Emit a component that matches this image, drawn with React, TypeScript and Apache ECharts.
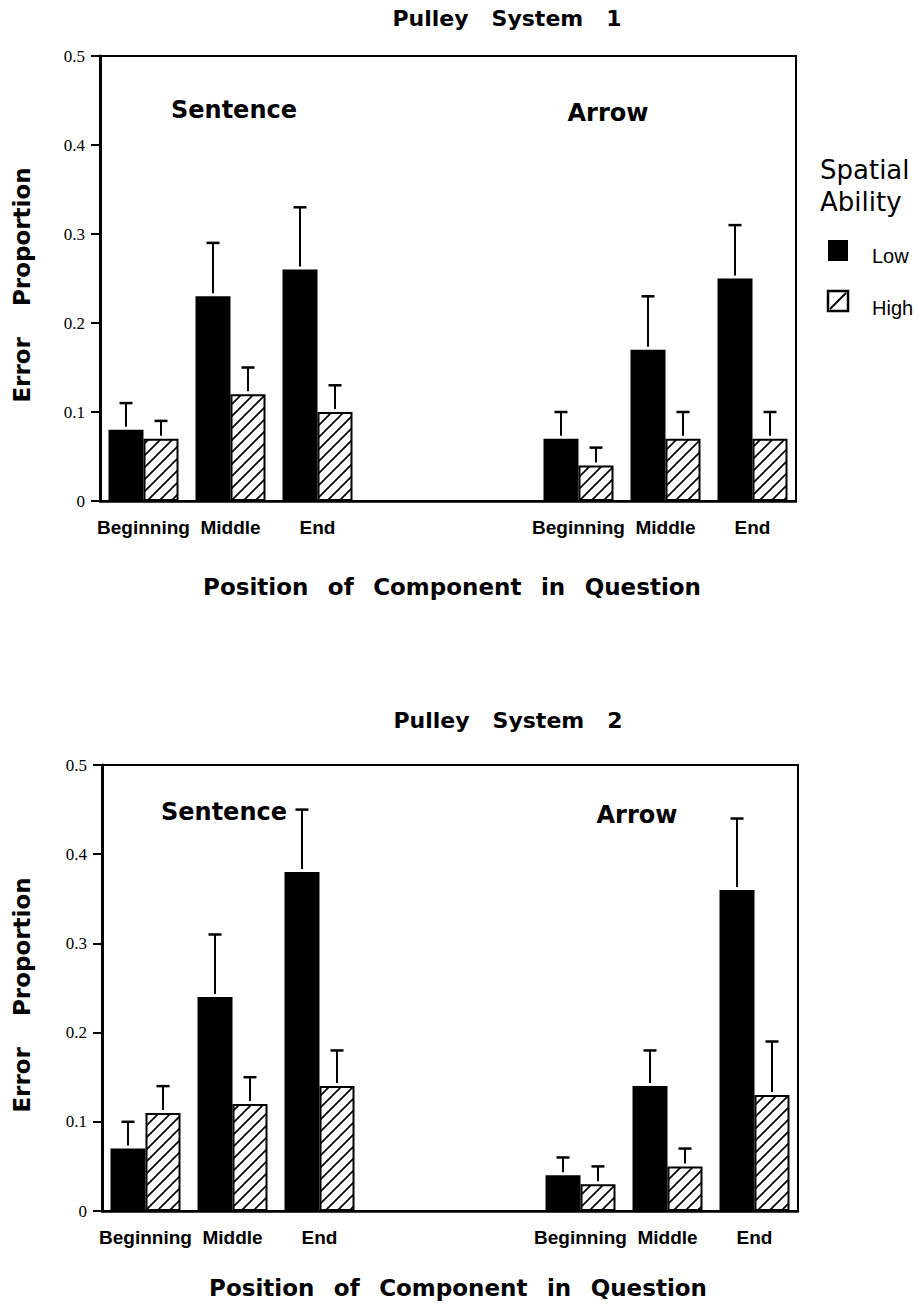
import React, { useEffect, useRef } from 'react';
import * as echarts from 'echarts';

// ---- data ----
const tickLabels = ['Beginning', 'Middle', 'End', '', '', 'Beginning', 'Middle', 'End'];
const seriesNames = ['Low', 'High'];

// Pulley System 1
const p1Low = [0.08, 0.23, 0.26, null, null, 0.07, 0.17, 0.25];
const p1LowErr = [0.11, 0.29, 0.33, null, null, 0.10, 0.23, 0.31];
const p1High = [0.07, 0.12, 0.10, null, null, 0.04, 0.07, 0.07];
const p1HighErr = [0.09, 0.15, 0.13, null, null, 0.06, 0.10, 0.10];

// Pulley System 2
const p2Low = [0.07, 0.24, 0.38, null, null, 0.04, 0.14, 0.36];
const p2LowErr = [0.10, 0.31, 0.45, null, null, 0.06, 0.18, 0.44];
const p2High = [0.11, 0.12, 0.14, null, null, 0.03, 0.05, 0.13];
const p2HighErr = [0.14, 0.15, 0.18, null, null, 0.05, 0.07, 0.19];

const panelTitles = ['Pulley\u00A0\u00A0\u00A0System\u00A0\u00A0\u00A01', 'Pulley\u00A0\u00A0\u00A0System\u00A0\u00A0\u00A02'];
const groupLabels = ['Sentence', 'Arrow'];
const yTitle = 'Error\u2002\u2002\u00A0Proportion';
const xTitle = 'Position\u2002\u00A0of\u2002\u00A0Component\u2002\u00A0in\u2002\u00A0Question';
const legendTitle = ['Spatial', 'Ability'];

const BAR_W = 35;
const BOLD = '"DejaVu Sans", sans-serif';

function makeHatch() {
  const s = 12;
  const c = document.createElement('canvas');
  c.width = s;
  c.height = s;
  const g = c.getContext('2d')!;
  g.fillStyle = '#fff';
  g.fillRect(0, 0, s, s);
  g.strokeStyle = '#000';
  g.lineWidth = 1.7;
  g.beginPath();
  g.moveTo(-2, s + 2);
  g.lineTo(s + 2, -2);
  g.moveTo(-2, 2);
  g.lineTo(2, -2);
  g.moveTo(s - 2, s + 2);
  g.lineTo(s + 2, s - 2);
  g.stroke();
  return c;
}

function errData(vals: (number | null)[], errs: (number | null)[], side: number) {
  const out: number[][] = [];
  vals.forEach((v, i) => {
    if (v != null && errs[i] != null) out.push([i, errs[i] as number, v, side]);
  });
  return out;
}

const renderErr = (params: any, api: any) => {
  const cat = api.value(0);
  const up = api.value(1);
  const v = api.value(2);
  const side = api.value(3);
  const base = api.coord([cat, v]);
  const top = api.coord([cat, up]);
  const x = base[0] + (side === 0 ? -1 : 1) * (BAR_W / 2);
  return {
    type: 'group',
    children: [
      { type: 'line', shape: { x1: x, y1: base[1] - 3, x2: x, y2: top[1] }, style: { stroke: '#000', lineWidth: 2 } },
      { type: 'line', shape: { x1: x - 6.5, y1: top[1], x2: x + 6.5, y2: top[1] }, style: { stroke: '#000', lineWidth: 2.5 } },
    ],
  };
};

export default function App() {
  const ref = useRef<HTMLDivElement>(null);
  useEffect(() => {
    if (!ref.current) return;
    const chart = echarts.init(ref.current, undefined, { renderer: 'svg' });
    const hatch = { image: makeHatch(), repeat: 'repeat', imageWidth: 12, imageHeight: 12 } as any;

    const grids = [
      { left: 100, top: 56, width: 696, height: 445 },
      { left: 102, top: 765, width: 696, height: 446 },
    ];
    const panels = [
      { low: p1Low, lowErr: p1LowErr, high: p1High, highErr: p1HighErr },
      { low: p2Low, lowErr: p2LowErr, high: p2High, highErr: p2HighErr },
    ];

    const xAxis = grids.map((_, i) => ({
      type: 'category',
      gridIndex: i,
      data: tickLabels,
      axisLine: { lineStyle: { color: '#000', width: 2.5 } },
      axisTick: { alignWithLabel: true, length: 9, lineStyle: { color: '#000', width: 2 } },
      axisLabel: {
        interval: 0,
        color: '#000',
        margin: 17,
        fontFamily: '"Liberation Sans", Arial, sans-serif',
        fontWeight: 'bold',
        fontSize: 19,
      },
    }));
    const yAxis = grids.map((_, i) => ({
      type: 'value',
      gridIndex: i,
      min: 0,
      max: 0.5,
      interval: 0.1,
      splitLine: { show: false },
      axisLine: { show: true, lineStyle: { color: '#000', width: 3 } },
      axisTick: { show: true, length: 9, lineStyle: { color: '#000', width: 2 } },
      axisLabel: {
        color: '#000',
        margin: 15,
        fontFamily: '"Liberation Serif", "Times New Roman", serif',
        fontSize: 17,
        formatter: (v: number) => (v === 0 ? '0' : v.toFixed(1)),
      },
    }));

    const series: any[] = [];
    panels.forEach((p, i) => {
      series.push({
        name: seriesNames[0],
        type: 'bar',
        xAxisIndex: i,
        yAxisIndex: i,
        barWidth: BAR_W,
        barGap: '0%',
        data: p.low.map((v) => (v == null ? '-' : v)),
        itemStyle: { color: '#000' },
      });
      series.push({
        name: seriesNames[1],
        type: 'bar',
        xAxisIndex: i,
        yAxisIndex: i,
        barWidth: BAR_W,
        barGap: '0%',
        data: p.high.map((v) => (v == null ? '-' : v)),
        itemStyle: { color: hatch, borderColor: '#000', borderWidth: 2 },
      });
      series.push({
        type: 'custom',
        xAxisIndex: i,
        yAxisIndex: i,
        renderItem: renderErr,
        encode: { x: 0, y: 1 },
        clip: false,
        z: 5,
        data: [...errData(p.low, p.lowErr, 0), ...errData(p.high, p.highErr, 1)],
      });
    });

    const txt = (text: string, x: number, y: number, font: string, extra: any = {}) => ({
      type: 'text',
      x,
      y,
      ...extra,
      style: { text, font, fill: '#000', align: extra.align || 'center', verticalAlign: 'middle' },
    });

    const graphic: any[] = [
      txt(panelTitles[0], 507, 18, `bold 22px ${BOLD}`),
      txt(panelTitles[1], 508, 720, `bold 22px ${BOLD}`),
      txt(groupLabels[0], 234, 110, `bold 24px ${BOLD}`),
      txt(groupLabels[1], 608, 113, `bold 24px ${BOLD}`),
      txt(groupLabels[0], 224, 812, `bold 24px ${BOLD}`),
      txt(groupLabels[1], 637, 815, `bold 24px ${BOLD}`),
      txt(yTitle, 22, 285, `bold 23px ${BOLD}`, { rotation: Math.PI / 2 }),
      txt(yTitle, 22, 995, `bold 23px ${BOLD}`, { rotation: Math.PI / 2 }),
      txt(xTitle, 452, 587, `bold 23px ${BOLD}`),
      txt(xTitle, 458, 1288, `bold 23px ${BOLD}`),
      // legend
      txt(legendTitle[0], 820, 170, `26px ${BOLD}`, { align: 'left' }),
      txt(legendTitle[1], 820, 202, `26px ${BOLD}`, { align: 'left' }),
      { type: 'rect', shape: { x: 828, y: 240, width: 20, height: 21 }, style: { fill: '#000' } },
      { type: 'rect', shape: { x: 828, y: 291, width: 20, height: 20 }, style: { fill: '#fff', stroke: '#000', lineWidth: 2.5 } },
      { type: 'line', shape: { x1: 830, y1: 309, x2: 846, y2: 293 }, style: { stroke: '#000', lineWidth: 2 } },
      txt(seriesNames[0], 872, 256, '20px "Liberation Sans", Arial, sans-serif', { align: 'left' }),
      txt(seriesNames[1], 872, 308, '20px "Liberation Sans", Arial, sans-serif', { align: 'left' }),
    ];

    chart.setOption({
      animation: false,
      backgroundColor: '#fff',
      grid: grids.map((g) => ({ ...g, show: true, borderColor: '#000', borderWidth: 2, backgroundColor: 'transparent' })),
      xAxis,
      yAxis,
      series,
      graphic,
    } as any);
    return () => chart.dispose();
  }, []);
  return <div ref={ref} style={{ position: 'absolute', left: 0, top: 0, width: 918, height: 1307 }} />;
}
